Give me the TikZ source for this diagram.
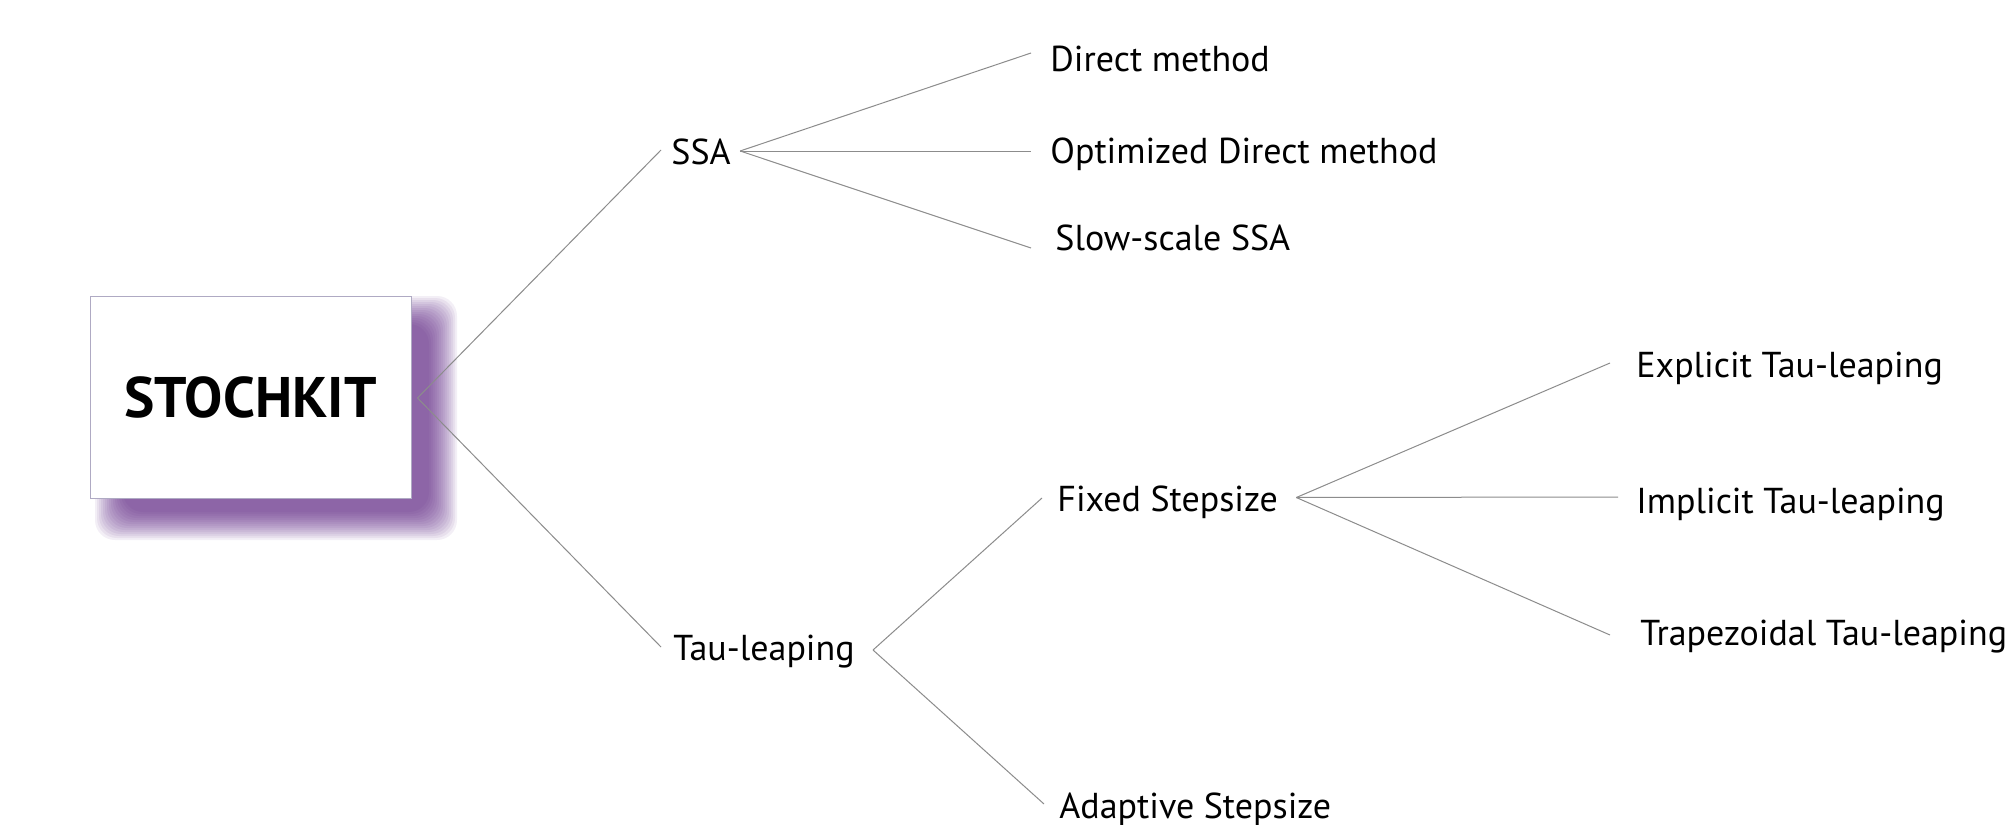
\documentclass[tikz,border=0pt]{standalone}
\usepackage{fontspec}
\setmainfont{PT Sans}
\usetikzlibrary{calc}
\definecolor{linec}{RGB}{140,140,140}
\definecolor{shadowc}{RGB}{90,30,130}
\definecolor{boxline}{RGB}{175,170,195}
\begin{document}
\begin{tikzpicture}[x=0.5pt,y=-0.5pt,
  lbl/.style={anchor=base west, inner sep=0pt, font=\fontsize{18}{21}\selectfont, text height=12pt, text depth=0pt},
  conn/.style={draw=linec, line width=0.5pt},
  rootbox/.style={draw=boxline, fill=white, line width=0.5pt, minimum width=160.5pt, minimum height=101pt, inner sep=0pt, font=\bfseries\fontsize{28.6}{30}\selectfont}]
\useasboundingbox (0,0) rectangle (2015,825);
\fill[white] (0,0) rectangle (2015,825);
% blurred purple shadow
\foreach \e in {30,28,...,2}{
  \fill[shadowc, opacity=0.07, rounded corners=10pt] (125-\e,326-\e) rectangle (427+\e,510+\e);
}
\node[rootbox] (box) at (250.5,397) {STOCHKIT\hspace{7pt}};
\node[lbl] (ssa) at (671,164) {SSA};
\node[lbl] (tau) at (673,660) {Tau-leaping};
\node[lbl] (direct) at (1050,71) {Direct method};
\node[lbl] (opt) at (1050,163) {Optimized Direct method};
\node[lbl] (slow) at (1055,250) {Slow-scale SSA};
\node[lbl] (fixed) at (1057,511) {Fixed Stepsize};
\node[lbl] (adapt) at (1059,818) {Adaptive Stepsize};
\node[lbl] (expl) at (1636,377) {Explicit Tau-leaping};
\node[lbl] (impl) at (1636,513) {Implicit Tau-leaping};
\node[lbl] (trap) at (1640,645) {Trapezoidal Tau-leaping};
% connectors
\draw[conn] ($(box.east)+(6,1)$) -- ($(ssa.west)+(-10,-2)$);
\draw[conn] ($(box.east)+(6,1)$) -- ($(tau.west)+(-12,-1)$);
\draw[conn] ($(ssa.east)+(9,-1)$) -- ($(direct.west)+(-19,-6)$);
\draw[conn] ($(ssa.east)+(9,-1)$) -- ($(opt.west)+(-19,0)$);
\draw[conn] ($(ssa.east)+(9,-1)$) -- ($(slow.west)+(-24,10)$);
\draw[conn] ($(tau.east)+(18,2)$) -- ($(fixed.west)+(-15,-1)$);
\draw[conn] ($(tau.east)+(18,2)$) -- ($(adapt.west)+(-15,-2)$);
\draw[conn] ($(fixed.east)+(18,-1.5)$) -- ($(expl.west)+(-26,-2)$);
\draw[conn] ($(fixed.east)+(18,-1.5)$) -- ($(impl.west)+(-18,-4)$);
\draw[conn] ($(fixed.east)+(18,-1.5)$) -- ($(trap.west)+(-30,2)$);
\end{tikzpicture}
\end{document}
